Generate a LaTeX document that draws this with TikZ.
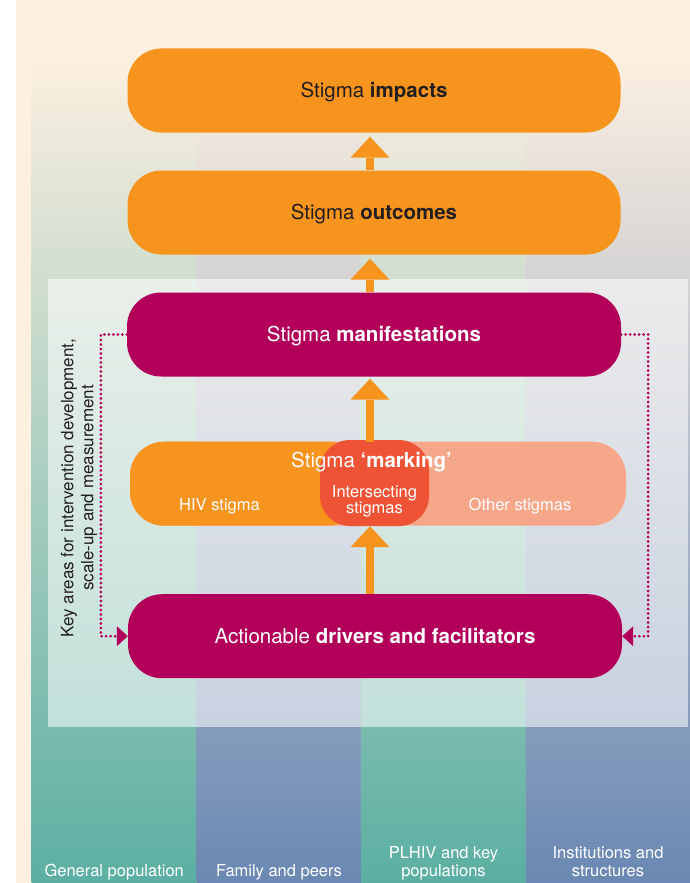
\documentclass[tikz,border=0pt]{standalone}
\usepackage{fontspec}
\setmainfont{TeX Gyre Heros}
\usetikzlibrary{arrows.meta,calc}
\definecolor{cream}{HTML}{FDF0E1}
\definecolor{orng}{HTML}{F7941D}
\definecolor{mag}{HTML}{B2005A}
\definecolor{salmon}{HTML}{F6A689}
\definecolor{isect}{HTML}{EF5335}
\definecolor{tealc}{HTML}{5BAFA2}
\definecolor{slate}{HTML}{6A88B3}
\definecolor{ink}{HTML}{231F20}
\begin{document}
\begin{tikzpicture}[x=1pt,y=-1pt,
  box/.style={rounded corners=34pt, minimum width=493pt, minimum height=84pt, inner sep=0pt,
    text height=14.5pt, text depth=0pt, font=\fontsize{20.5}{24}\selectfont, align=center},
  obox/.style={box, fill=orng, text=ink},
  mbox/.style={box, fill=mag, text=white},
  uparrow/.style={draw=orng, line width=8pt, -{Triangle[length=21pt,width=39pt,line width=0pt]}},
  loopline/.style={draw=mag, line width=3pt, line cap=round, dash pattern=on 0pt off 4.5pt,
    -{Triangle[length=11pt,width=20pt,line width=0pt]}},
  collabel/.style={text=white, font=\fontsize{16.5}{18}\selectfont, align=center, anchor=south, inner sep=0pt},
  innerlabel/.style={text=white, font=\fontsize{16.5}{16}\selectfont, align=center, inner sep=0pt},
]
\useasboundingbox (0,0) rectangle (690,883);
% background
\fill[white] (0,0) rectangle (690,883);
\fill[cream] (16,0) rectangle (690,883);
\shade[top color=cream, bottom color=tealc] (31.7,50) rectangle (196.7,883);
\shade[top color=cream, bottom color=slate] (196.7,50) rectangle (360.8,883);
\shade[top color=cream, bottom color=tealc] (360.8,50) rectangle (525.8,883);
\shade[top color=cream, bottom color=slate] (525.8,50) rectangle (690,883);
\fill[white, fill opacity=0.55] (47.5,279) rectangle (688,727);

% rotated caption
\node[rotate=90, align=center, text=ink, font=\fontsize{17}{20}\selectfont, inner sep=0pt] (keylbl) at (79,488)
  {Key areas for intervention development,\\scale-up and measurement};

% boxes
\node[obox] (imp) at (374,90.5) {Stigma \textbf{impacts}};
\node[obox] (out) at (374,212.5) {Stigma \textbf{outcomes}};
\node[mbox, minimum width=494pt] (man) at (374,334.5) {Stigma \textbf{manifestations}};
\node[mbox, minimum width=494pt] (drv) at (375,636.2) {Actionable \textbf{drivers and facilitators}};

% feedback loops
\draw[loopline] (man.west) -- ++(-26,0) |- (drv.west);
\draw[loopline] (man.east) -- ++(27,0) |- (drv.east);

% marking box
\node[box, minimum width=496pt, fill=salmon,
  path picture={\fill[orng] (path picture bounding box.north west) rectangle ($(path picture bounding box.south west)+(232,0)$);}]
  (mark) at (378,483.7) {};
\node[box, minimum width=109pt, minimum height=86pt, rounded corners=30pt, fill=isect] (isx) at (374.5,483) {};
\node[text=white, font=\fontsize{20.5}{24}\selectfont, anchor=base, inner sep=0pt] (marklbl) at (371.5,467.3)
  {Stigma \textbf{‘marking’}};
\node[innerlabel, anchor=base] (hivl) at (219.5,510) {HIV stigma};
\node[innerlabel, anchor=base] (othl) at (520,510) {Other stigmas};
\node[innerlabel] (isl) at (374.5,501) {Intersecting\\stigmas};

% arrows
\coordinate (ax) at (370,0);
\draw[uparrow, shorten >=4pt] (out.north -| ax) -- (imp.south -| ax);
\draw[uparrow, shorten >=4pt] (man.north -| ax) -- (out.south -| ax);
\draw[uparrow, shorten >=2pt] (mark.north -| ax) -- (man.south -| ax);
\draw[uparrow] (drv.north -| ax) -- (isx.south -| ax);

% column labels
\node[collabel] (c1) at (114.2,882.5) {General population\strut};
\node[collabel] (c2) at (279,882.5) {Family and peers\strut};
\node[collabel] (c3) at (443.5,882.5) {PLHIV and key\\populations\strut};
\node[collabel] (c4) at (608,882.5) {Institutions and\\structures\strut};
\end{tikzpicture}
\end{document}
